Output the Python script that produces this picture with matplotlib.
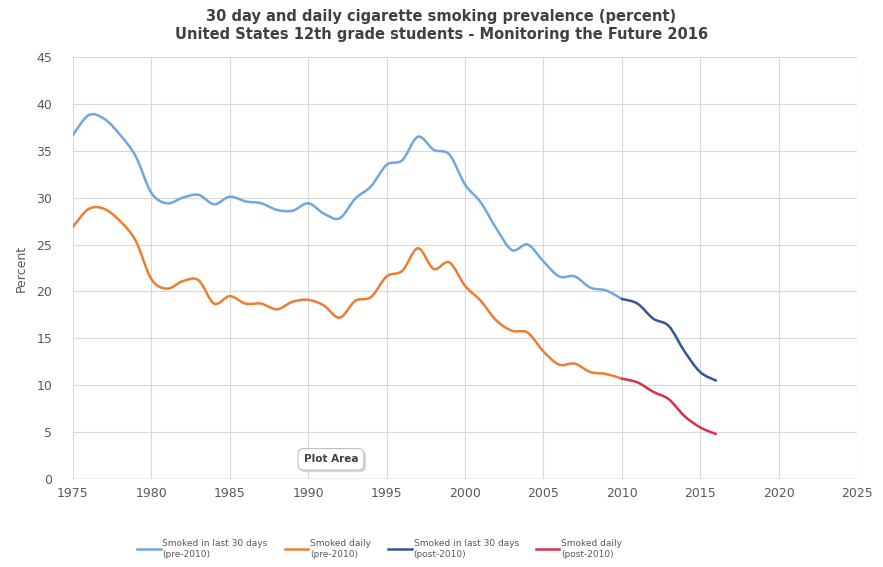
import matplotlib
matplotlib.use("Agg")
import matplotlib.pyplot as plt
import matplotlib.patheffects as pe
from matplotlib.path import Path
from matplotlib.patches import PathPatch
from matplotlib.lines import Line2D

years = list(range(1975, 2017))
last30 = [36.7, 38.8, 38.4, 36.7, 34.4, 30.5, 29.4, 30.0, 30.3, 29.3,
          30.1, 29.6, 29.4, 28.7, 28.6, 29.4, 28.3, 27.8, 29.9, 31.2,
          33.5, 34.0, 36.5, 35.1, 34.6, 31.4, 29.5, 26.7, 24.4, 25.0,
          23.2, 21.6, 21.6, 20.4, 20.1, 19.2, 18.7, 17.1, 16.3, 13.6,
          11.4, 10.5]
daily = [26.9, 28.8, 28.8, 27.5, 25.4, 21.3, 20.3, 21.1, 21.2, 18.7,
         19.5, 18.7, 18.7, 18.1, 18.9, 19.1, 18.5, 17.2, 19.0, 19.4,
         21.6, 22.2, 24.6, 22.4, 23.1, 20.6, 19.0, 16.9, 15.8, 15.6,
         13.6, 12.2, 12.3, 11.4, 11.2, 10.7, 10.3, 9.3, 8.5, 6.7,
         5.5, 4.8]
split_year = 2010

series_labels = ["Smoked in last 30 days\n(pre-2010)", "Smoked daily\n(pre-2010)",
                 "Smoked in last 30 days\n(post-2010)", "Smoked daily\n(post-2010)"]
colors = ["#6FA8DC", "#ED7D31", "#34559A", "#DC2F4C"]


def smooth_path(xs, ys):
    # Excel-style smoothed line: cubic bezier through every data point
    verts = [(xs[0], ys[0])]
    codes = [Path.MOVETO]
    n = len(xs)
    for i in range(n - 1):
        x0, y0 = (xs[i - 1], ys[i - 1]) if i > 0 else (xs[i], ys[i])
        x1, y1 = xs[i], ys[i]
        x2, y2 = xs[i + 1], ys[i + 1]
        x3, y3 = (xs[i + 2], ys[i + 2]) if i + 2 < n else (x2, y2)
        c1 = (x1 + (x2 - x0) / 6.0, y1 + (y2 - y0) / 6.0)
        c2 = (x2 - (x3 - x1) / 6.0, y2 - (y3 - y1) / 6.0)
        verts += [c1, c2, (x2, y2)]
        codes += [Path.CURVE4] * 3
    return Path(verts, codes)


def draw(ax, xs, ys, color):
    ax.add_patch(PathPatch(smooth_path(xs, ys), facecolor="none",
                           edgecolor=color, lw=1.8, capstyle="round"))


fig = plt.figure(figsize=(8.83, 5.67), dpi=100)
ax = fig.add_axes([0.0827, 0.1552, 0.8879, 0.7443])

k = years.index(split_year)
draw(ax, years[:k + 1], last30[:k + 1], colors[0])
draw(ax, years[:k + 1], daily[:k + 1], colors[1])
draw(ax, years[k:], last30[k:], colors[2])
draw(ax, years[k:], daily[k:], colors[3])

ax.set_xlim(1975, 2025)
ax.set_ylim(0, 45)
ax.set_xticks(range(1975, 2026, 5))
ax.set_yticks(range(0, 46, 5))
ax.grid(True, color="#D9D9D9", lw=0.8)
ax.set_axisbelow(True)
for s in ax.spines.values():
    s.set_visible(False)
ax.axhline(0, color="#BFBFBF", lw=1)
ax.tick_params(length=0, labelsize=9, colors="#595959")
ax.tick_params(axis="y", pad=15)
ax.tick_params(axis="x", pad=6)
ax.set_ylabel("Percent", fontsize=9, color="#595959", labelpad=6)

fig.text(0.5, 0.955, "30 day and daily cigarette smoking prevalence (percent)\n"
         "United States 12th grade students - Monitoring the Future 2016",
         ha="center", va="center", fontsize=10.5, fontweight="bold",
         color="#404040", linespacing=1.3)

# hover label left over from the spreadsheet chart
tip = ax.text(1991.45, 2.1, "Plot Area", ha="center", va="center", fontsize=7.5,
              fontweight="bold", color="#404040",
              bbox=dict(boxstyle="round,pad=0.55", fc="white", ec="#BFBFBF", lw=0.8))
tip.get_bbox_patch().set_path_effects(
    [pe.SimplePatchShadow(offset=(1.5, -1.5), shadow_rgbFace="#C8C8C8", alpha=0.7),
     pe.Normal()])

handles = [Line2D([0], [0], color=c, lw=1.8) for c in colors]
fig.legend(handles, series_labels, loc="center", bbox_to_anchor=(0.43, 0.032),
           ncol=4, frameon=False, fontsize=6.5, handlelength=2.6,
           handletextpad=0.2, columnspacing=1.9, labelcolor="#595959")

fig.savefig("out.png", dpi=100)
